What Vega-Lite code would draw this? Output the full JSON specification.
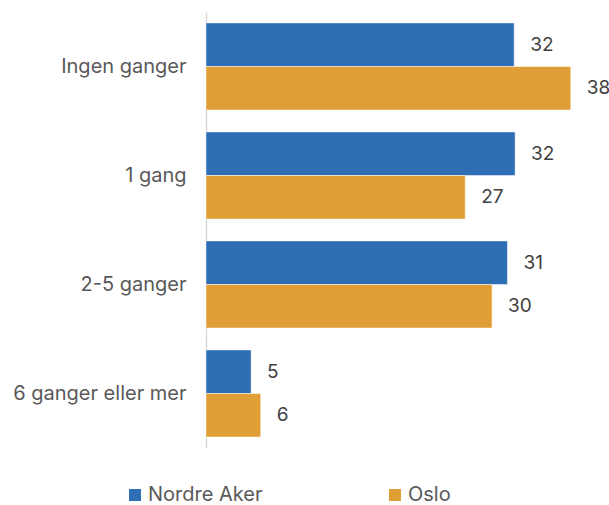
{
  "$schema": "https://vega.github.io/schema/vega-lite/v6.json",
  "width": 384,
  "height": 436,
  "autosize": {"type": "none"},
  "padding": {"left": 206, "top": 12, "right": 19, "bottom": 57},
  "config": {"view": {"stroke": null}, "font": "Inter"},
  "data": {
    "values": [
      {"kategori": "Ingen ganger", "serie": "Nordre Aker", "verdi": 32.1},
      {"kategori": "Ingen ganger", "serie": "Oslo", "verdi": 38.0},
      {"kategori": "1 gang", "serie": "Nordre Aker", "verdi": 32.2},
      {"kategori": "1 gang", "serie": "Oslo", "verdi": 27.0},
      {"kategori": "2-5 ganger", "serie": "Nordre Aker", "verdi": 31.4},
      {"kategori": "2-5 ganger", "serie": "Oslo", "verdi": 29.8},
      {"kategori": "6 ganger eller mer", "serie": "Nordre Aker", "verdi": 4.7},
      {"kategori": "6 ganger eller mer", "serie": "Oslo", "verdi": 5.7}
    ]
  },
  "encoding": {
    "y": {
      "field": "kategori",
      "type": "nominal",
      "sort": ["Ingen ganger", "1 gang", "2-5 ganger", "6 ganger eller mer"],
      "scale": {"paddingInner": 0.2, "paddingOuter": 0.1},
      "axis": {
        "title": null,
        "domainColor": "#d9d9d9",
        "domainWidth": 1.5,
        "ticks": false,
        "labelFontSize": 20,
        "labelColor": "#595959",
        "labelPadding": 20,
        "labelLimit": 250
      }
    },
    "yOffset": {
      "field": "serie",
      "sort": ["Nordre Aker", "Oslo"],
      "scale": {"paddingInner": 0, "paddingOuter": 0}
    },
    "x": {
      "field": "verdi",
      "type": "quantitative",
      "scale": {"domain": [0, 40]},
      "axis": null
    }
  },
  "layer": [
    {
      "mark": {"type": "bar", "stroke": "white", "strokeWidth": 0.5},
      "encoding": {
        "color": {
          "field": "serie",
          "type": "nominal",
          "scale": {"domain": ["Nordre Aker", "Oslo"], "range": ["#2E6EB5", "#E09F36"]},
          "legend": {
            "title": null,
            "orient": "none",
            "legendX": -81,
            "legendY": 473,
            "direction": "horizontal",
            "symbolType": "square",
            "symbolSize": 144,
            "symbolStrokeWidth": 0,
            "labelFontSize": 20,
            "labelColor": "#595959",
            "labelOffset": 3,
            "columnPadding": 122
          }
        }
      }
    },
    {
      "mark": {"type": "text", "align": "left", "baseline": "middle", "dx": 16, "fontSize": 19, "color": "#404040"},
      "encoding": {"text": {"field": "verdi", "type": "quantitative", "format": ".0f"}}
    }
  ]
}
